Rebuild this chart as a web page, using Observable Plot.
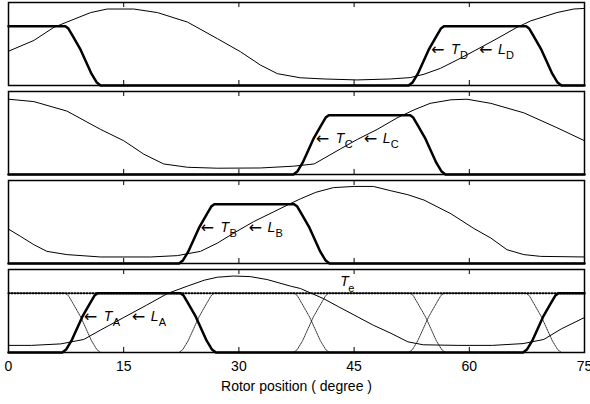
<!DOCTYPE html>
<html><head><meta charset="utf-8">
<script src="https://cdn.jsdelivr.net/npm/d3@7"></script>
<script src="https://cdn.jsdelivr.net/npm/@observablehq/plot@0.6"></script>
<style>body{margin:0;background:#fff} #chart svg{display:block}</style>
</head><body><div id="chart"></div>
<script>
// Panels from top to bottom
const phases = ["D", "C", "B", "A"];
const xTicks = [0, 15, 30, 45, 60, 75];
const innerTicks = [15, 30, 45, 60];
const xLabel = "Rotor position ( degree )";

// Phase torque (thick), normalised units
const torqueA_x = [0, 7.0, 7.5, 8.2, 9.6, 10.7, 11.2, 11.6, 22.4, 22.8, 23.3, 24.4, 25.8, 26.5, 27.0, 67.0, 67.5, 68.2, 69.6, 70.7, 71.2, 71.6, 75];
const torqueA_y = [0, 0, 0.05, 0.2, 0.6, 0.85, 0.96, 1, 1, 0.96, 0.85, 0.6, 0.2, 0.05, 0, 0, 0.05, 0.2, 0.6, 0.85, 0.96, 1, 1];
const torqueB_x = [0, 22.2, 22.7, 23.4, 24.8, 25.9, 26.4, 26.8, 37.2, 37.6, 38.1, 39.2, 40.6, 41.3, 41.8, 75];
const torqueB_y = [0, 0, 0.05, 0.2, 0.6, 0.85, 0.96, 1, 1, 0.96, 0.85, 0.6, 0.2, 0.05, 0, 0];
const torqueC_x = [0, 37.1, 37.6, 38.3, 39.7, 40.8, 41.3, 41.7, 52.3, 52.7, 53.2, 54.3, 55.7, 56.4, 56.9, 75];
const torqueC_y = [0, 0, 0.05, 0.2, 0.6, 0.85, 0.96, 1, 1, 0.96, 0.85, 0.6, 0.2, 0.05, 0, 0];
const torqueD_x = [0, 7.4, 7.8, 8.3, 9.4, 10.8, 11.5, 12.0, 52.1, 52.6, 53.3, 54.7, 55.8, 56.3, 56.7, 67.4, 67.8, 68.3, 69.4, 70.8, 71.5, 72.0, 75];
const torqueD_y = [1, 1, 0.96, 0.85, 0.6, 0.2, 0.05, 0, 0, 0.05, 0.2, 0.6, 0.85, 0.96, 1, 1, 0.96, 0.85, 0.6, 0.2, 0.05, 0, 0];

// Phase inductance (thin)
const inductA_x = [0, 3, 6.8, 9.8, 12, 15, 18, 20.7, 23.3, 25.5, 27.2, 29.3, 31.5, 33.7, 36.7, 38, 41, 43, 45.4, 47.5, 49.7, 52, 54, 58.5, 63, 67, 69.7, 72, 75];
const inductA_y = [0.12, 0.12, 0.145, 0.22, 0.38, 0.59, 0.80, 0.995, 1.12, 1.22, 1.27, 1.29, 1.28, 1.23, 1.12, 1.08, 0.91, 0.77, 0.605, 0.46, 0.33, 0.18, 0.13, 0.12, 0.12, 0.15, 0.22, 0.40, 0.59];
const inductB_x = [0, 1.6, 3.3, 5.0, 7.6, 12, 18.5, 22, 25, 27.2, 29.3, 31.9, 34.5, 36.7, 38, 40, 42.3, 45, 47.5, 49.7, 52, 54.1, 57.6, 60.6, 62.8, 64.9, 67.1, 69.3, 75];
const inductB_y = [0.58, 0.455, 0.317, 0.205, 0.15, 0.11, 0.11, 0.133, 0.205, 0.344, 0.51, 0.705, 0.87, 1.01, 1.09, 1.2, 1.28, 1.3, 1.3, 1.23, 1.16, 1.07, 0.84, 0.59, 0.43, 0.233, 0.15, 0.12, 0.11];
const inductC_x = [0, 3.3, 7.6, 12, 15, 17.6, 20.2, 23.3, 27.2, 32.8, 37.1, 39.8, 43.2, 45.4, 48.0, 50.6, 52.8, 54.9, 57.6, 59.7, 62.8, 67.1, 71.4, 75];
const inductC_y = [1.27, 1.23, 1.07, 0.76, 0.57, 0.344, 0.178, 0.122, 0.106, 0.11, 0.14, 0.178, 0.43, 0.59, 0.76, 0.955, 1.09, 1.2, 1.26, 1.27, 1.2, 1.04, 0.79, 0.57];
const inductD_x = [0, 3.3, 5.9, 7.6, 10.7, 12.85, 16.3, 19.4, 23.3, 27.2, 30.2, 32.8, 35.0, 38.0, 41.1, 45.4, 49.7, 52.3, 54.1, 56.25, 58.4, 60.6, 63.6, 66.2, 68, 71.4, 73.6, 75];
const inductD_y = [0.578, 0.76, 0.98, 1.07, 1.23, 1.29, 1.29, 1.23, 1.07, 0.79, 0.57, 0.345, 0.2, 0.13, 0.11, 0.094, 0.11, 0.133, 0.19, 0.29, 0.43, 0.58, 0.79, 0.98, 1.09, 1.23, 1.29, 1.3];

// Total torque Te (flat)
const te_x = [0, 75];
const te_y = [1, 1];

// Annotation anchor points (arrow tips on rising torque edge)
const labelPhase = ["A", "B", "C", "D"];
const labelX = [9.8, 25.0, 40.0, 55.0];
const labelY = [0.6, 0.6, 0.6, 0.6];
const teLabelX = 43.2, teLabelY = 1.2;

// ---- build tables ----
const zip = (phase, xs, ys, extra = {}) => xs.map((x, i) => ({phase, x, y: ys[i], ...extra}));
const torque = [
  ...zip("A", torqueA_x, torqueA_y), ...zip("B", torqueB_x, torqueB_y),
  ...zip("C", torqueC_x, torqueC_y), ...zip("D", torqueD_x, torqueD_y)
];
const induct = [
  ...zip("A", inductA_x, inductA_y), ...zip("B", inductB_x, inductB_y),
  ...zip("C", inductC_x, inductC_y), ...zip("D", inductD_x, inductD_y)
];
// other phases' torques shown dotted in bottom panel
const dotted = [
  ...zip("B", torqueB_x, torqueB_y, {panel: "A"}),
  ...zip("C", torqueC_x, torqueC_y, {panel: "A"}),
  ...zip("D", torqueD_x, torqueD_y, {panel: "A"})
];
const te = zip("Te", te_x, te_y, {panel: "A"});
const labels = labelPhase.map((p, i) => ({phase: p, x: labelX[i], y: labelY[i]}));
const teLabel = [{panel: "A", x: teLabelX, y: teLabelY}];

const font = "'Liberation Sans', Arial, Helvetica, sans-serif";
const arrowFont = "'DejaVu Sans', sans-serif";
const txt = {x: "x", y: "y", textAnchor: "start", fill: "#000", fontFamily: font};

const chart = Plot.plot({
  width: 590,
  height: 404,
  marginTop: 1,
  marginBottom: 51,
  marginLeft: 8,
  marginRight: 6,
  x: {domain: [0, 75]},
  y: {domain: [0, 1.4], axis: null},
  fy: {domain: phases, axis: null, paddingInner: 0.065, paddingOuter: 0},
  style: {fontFamily: font, fontSize: "14px", color: "#000", background: "#fff"},
  marks: [
    Plot.line(induct, {x: "x", y: "y", fy: "phase", stroke: "#000", strokeWidth: 1}),
    Plot.line(dotted, {x: "x", y: "y", fy: "panel", z: "phase", stroke: "#000", strokeWidth: 0.8, strokeDasharray: "1,1"}),
    Plot.line(te, {x: "x", y: "y", fy: "panel", stroke: "#000", strokeWidth: 2, strokeDasharray: "1,2"}),
    Plot.line(torque, {x: "x", y: "y", fy: "phase", z: "phase", stroke: "#000", strokeWidth: 2.5, strokeLinejoin: "round"}),
    Plot.ruleX(innerTicks, {x: d => d, y1: 0, y2: 0.085, stroke: "#000", strokeWidth: 1}),
    Plot.ruleX(innerTicks, {x: d => d, y1: 1.315, y2: 1.4, stroke: "#000", strokeWidth: 1}),
    Plot.frame({stroke: "#000", strokeWidth: 1.5}),
    Plot.text(labels, {...txt, fy: "phase", text: () => "\u2190", dx: 0, fontSize: 16, fontFamily: arrowFont}),
    Plot.text(labels, {...txt, fy: "phase", text: () => "T", fontStyle: "italic", dx: 20, fontSize: 14}),
    Plot.text(labels, {...txt, fy: "phase", text: "phase", dx: 29, dy: 6, fontSize: 11}),
    Plot.text(labels, {...txt, fy: "phase", text: () => "\u2190", dx: 48, fontSize: 16, fontFamily: arrowFont}),
    Plot.text(labels, {...txt, fy: "phase", text: () => "L", fontStyle: "italic", dx: 67, fontSize: 14}),
    Plot.text(labels, {...txt, fy: "phase", text: "phase", dx: 75, dy: 6, fontSize: 11}),
    Plot.text(teLabel, {...txt, fy: "panel", text: () => "T", fontStyle: "italic", fontSize: 14}),
    Plot.text(teLabel, {...txt, fy: "panel", text: () => "e", dx: 8, dy: 7, fontSize: 11}),
    Plot.axisX({ticks: xTicks, tickSize: 0, tickPadding: 9, fontSize: 14, tickFormat: d => String(d),
      label: xLabel, labelAnchor: "center", labelArrow: "none", labelOffset: 38})
  ]
});
document.getElementById("chart").appendChild(chart);
</script>
</body></html>
